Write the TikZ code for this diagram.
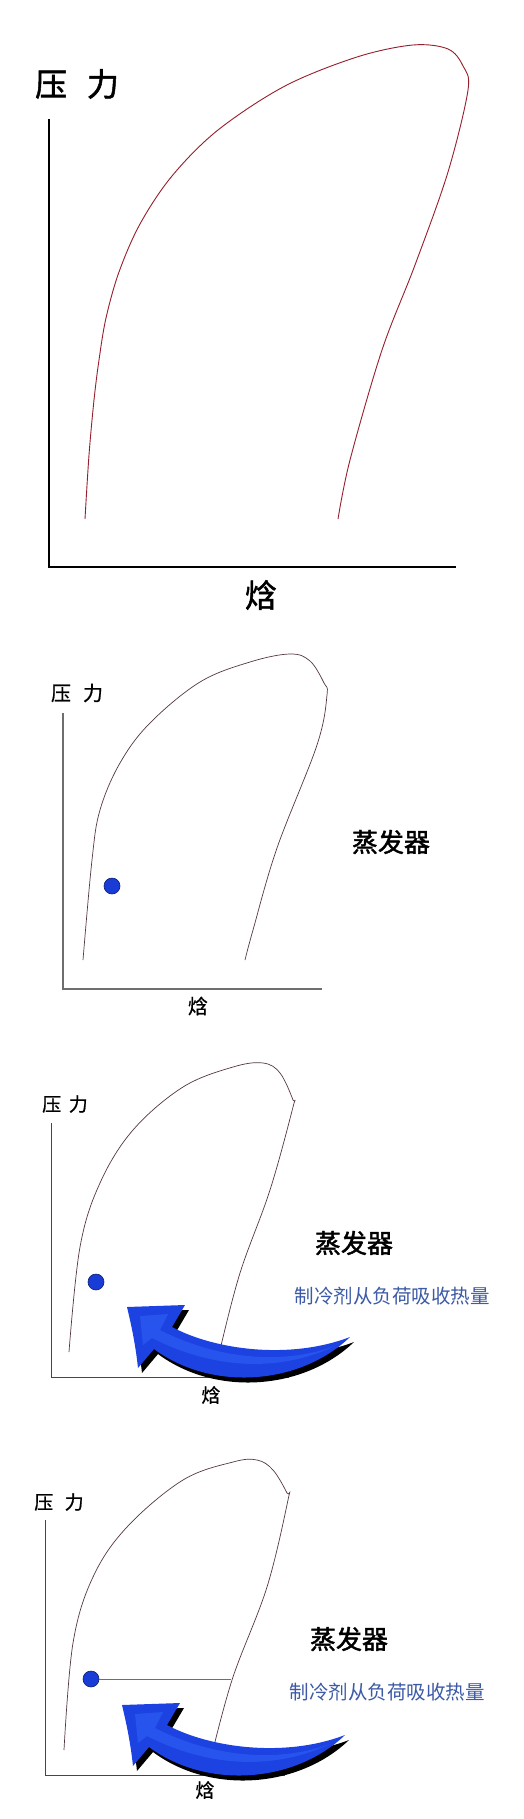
\documentclass[tikz,border=0pt]{standalone}
\usepackage{fontspec}
\newfontfamily\cjk{Noto Sans CJK SC}
\newfontfamily\cjkb{Noto Sans CJK SC}[FakeBold=1.6]
\newfontfamily\cjkm{Noto Sans CJK SC}[FakeBold=0.8]
\definecolor{curvered}{RGB}{150,30,45}
\definecolor{curvedark}{RGB}{85,55,65}
\definecolor{axisgray}{RGB}{110,110,110}
\definecolor{axisdark}{RGB}{70,70,70}
\definecolor{dotblue}{RGB}{25,60,215}
\definecolor{dotedge}{RGB}{15,30,110}
\definecolor{arrowblue}{RGB}{28,66,226}
\definecolor{arrowlight}{RGB}{40,84,238}
\definecolor{textblue}{RGB}{60,90,165}
\newcommand{\fs}[1]{\fontsize{#1}{#1}\selectfont}
\begin{document}
\begin{tikzpicture}[x=1pt,y=-1pt,
  lbl/.style={inner sep=0pt, outer sep=0pt},
  curveone/.style={draw=curvered, line width=0.9pt},
  curvetwo/.style={draw=curvedark, line width=0.7pt},
  axisone/.style={draw=black, line width=1.4pt},
  axistwo/.style={draw=axisgray, line width=1.2pt},
  axisthree/.style={draw=axisdark, line width=1pt},
  dotst/.style={circle, fill=dotblue, draw=dotedge, line width=0.6pt, minimum size=16pt, inner sep=0pt},
  arrowbody/.style={fill=arrowblue, draw=none},
  arrowshade/.style={fill=black, draw=none},
  levelline/.style={draw=axisgray, line width=1pt}
]
\useasboundingbox (0,0) rectangle (524,1819);
\fill[white] (0,0) rectangle (524,1819);

% ---------------- Panel 1 ----------------
\node[lbl, font=\cjkb\fs{32}] (p1y) at (77,84) {压\hspace{0.62em}力};
\node[lbl, font=\cjkb\fs{32}] (p1x) at (261,595) {焓};
\coordinate (p1o) at (49,567);
\coordinate (p1t) at (49,119);
\coordinate (p1e) at (456,567);
\draw[axisone] (p1t) -- (p1o) -- (p1e);
\draw[curveone] plot[smooth, tension=0.55] coordinates {(85,519) (89,455) (94,400) (99,360) (106,318) (119,272) (140,224) (172,176) (218,130) (285,86) (357,57) (413,45) (448,49) (463,66) (468,90) (448,172) (415,265) (382,350) (350,460) (338,519)};

% ---------------- Panel 2 ----------------
\node[lbl, font=\cjkm\fs{20}] (p2y) at (77,693) {压\hspace{0.6em}力};
\node[lbl, font=\cjkm\fs{20}] (p2x) at (198,1006) {焓};
\node[lbl, font=\cjkb\fs{26}] (p2e) at (391,842) {蒸发器};
\coordinate (p2o) at (63,989);
\coordinate (p2t) at (63,713);
\coordinate (p2r) at (322,989);
\draw[axistwo] (p2t) -- (p2o) -- (p2r);
\draw[curvetwo] plot[smooth, tension=0.6] coordinates {(83,960) (92,860) (100,810) (120,763) (150,723) (200,682) (250,662) (290,654) (310,661) (324,683) (327,695) (317,745) (277,848) (253,930) (245,960)};
\node[dotst] (p2d) at (112,886) {};

% ---------------- Panel 3 ----------------
\node[lbl, font=\cjkm\fs{19}] (p3y) at (65,1104) {压\hspace{0.4em}力};
\node[lbl, font=\cjkm\fs{19}] (p3x) at (211,1395) {焓};
\node[lbl, font=\cjkb\fs{26}] (p3e) at (354,1243) {蒸发器};
\node[lbl, font=\cjk\fs{19.5}, text=textblue] (p3q) at (392,1296) {制冷剂从负荷吸收热量};
\coordinate (p3o) at (51,1377);
\coordinate (p3t) at (51,1123);
\coordinate (p3r) at (289,1377);
\draw[axisthree] (p3t) -- (p3o) -- (p3r);
\draw[curvetwo] plot[smooth, tension=0.6] coordinates {(69,1352) (80,1247) (100,1183) (133,1130) (183,1087) (233,1067) (263,1063) (280,1073) (293,1100) (293,1107) (270,1190) (240,1273) (220,1350)};
\node[dotst] (p3d) at (96,1282) {};
\begin{scope}[shift={(4,5)}]
\fill[arrowshade] (127,1307) -- (185,1305) -- (172,1327)
  .. controls (215,1350) and (290,1360) .. (350,1337)
  .. controls (300,1385) and (212,1392) .. (154,1349)
  -- (138,1368) .. controls (135,1340) and (130,1320) .. (127,1307) -- cycle;
\end{scope}
\fill[arrowbody] (127,1307) -- (185,1305) -- (172,1327)
  .. controls (215,1350) and (290,1360) .. (350,1337)
  .. controls (300,1385) and (212,1392) .. (154,1349)
  -- (138,1368) .. controls (135,1340) and (130,1320) .. (127,1307) -- cycle;
\fill[arrowlight] (140,1316) -- (168,1314) -- (160,1330)
  .. controls (215,1358) and (280,1366) .. (335,1346)
  .. controls (280,1372) and (215,1370) .. (152,1338)
  -- (143,1345) -- cycle;

% ---------------- Panel 4 ----------------
\node[lbl, font=\cjkm\fs{19}] (p4y) at (59,1502) {压\hspace{0.6em}力};
\node[lbl, font=\cjkm\fs{19}] (p4x) at (205,1790) {焓};
\node[lbl, font=\cjkb\fs{26}] (p4e) at (349,1639) {蒸发器};
\node[lbl, font=\cjk\fs{19.5}, text=textblue] (p4q) at (387,1692) {制冷剂从负荷吸收热量};
\coordinate (p4o) at (45,1775);
\coordinate (p4t) at (45,1520);
\coordinate (p4r) at (285,1775);
\draw[axisthree] (p4t) -- (p4o) -- (p4r);
\draw[curvetwo] plot[smooth, tension=0.6] coordinates {(64,1750) (73,1643) (93,1577) (127,1527) (183,1480) (233,1462) (257,1460) (273,1470) (287,1493) (288,1500) (267,1587) (233,1677) (213,1750)};
\coordinate (p4l) at (231,1679);
\node[dotst] (p4d) at (91,1679) {};
\draw[levelline] (p4d.east) -- (p4l);
\begin{scope}[shift={(-1,403)}]
\fill[arrowshade] (127,1307) -- (185,1305) -- (172,1327)
  .. controls (215,1350) and (290,1360) .. (350,1337)
  .. controls (300,1385) and (212,1392) .. (154,1349)
  -- (138,1368) .. controls (135,1340) and (130,1320) .. (127,1307) -- cycle;
\end{scope}
\begin{scope}[shift={(-5,398)}]
\fill[arrowbody] (127,1307) -- (185,1305) -- (172,1327)
  .. controls (215,1350) and (290,1360) .. (350,1337)
  .. controls (300,1385) and (212,1392) .. (154,1349)
  -- (138,1368) .. controls (135,1340) and (130,1320) .. (127,1307) -- cycle;
\fill[arrowlight] (140,1316) -- (168,1314) -- (160,1330)
  .. controls (215,1358) and (280,1366) .. (335,1346)
  .. controls (280,1372) and (215,1370) .. (152,1338)
  -- (143,1345) -- cycle;
\end{scope}
\end{tikzpicture}
\end{document}
